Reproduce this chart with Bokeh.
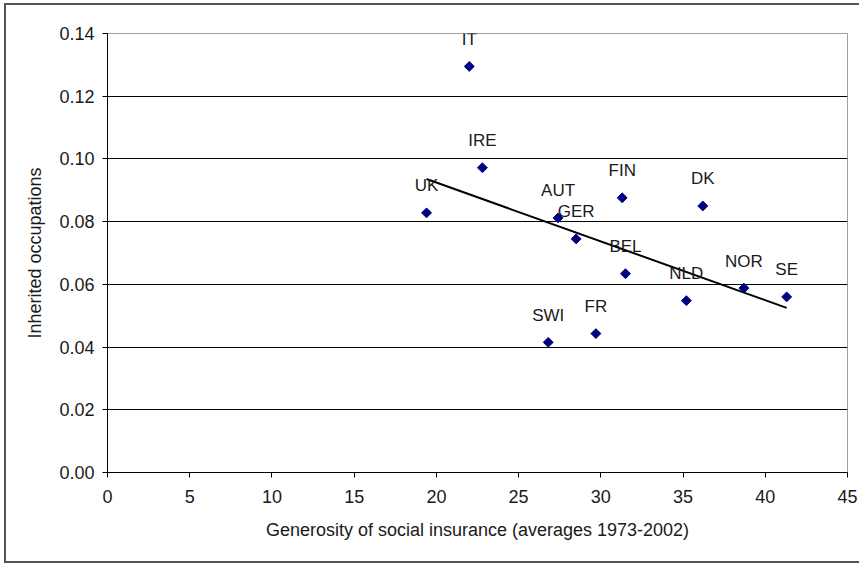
import numpy as np
from bokeh.plotting import figure
from bokeh.layouts import column
from bokeh.models import (ColumnDataSource, FixedTicker, PrintfTickFormatter, Range1d)
from bokeh.core.properties import value
from bokeh.embed import file_html
from bokeh.resources import INLINE

# ---- data ----
countries = ["IT", "IRE", "UK", "AUT", "GER", "FIN", "DK", "BEL", "NLD", "NOR", "SE", "SWI", "FR"]
generosity = [22.0, 22.8, 19.4, 27.4, 28.5, 31.3, 36.2, 31.5, 35.2, 38.7, 41.3, 26.8, 29.7]
inherited = [0.1295, 0.0972, 0.0828, 0.0812, 0.0745, 0.0876, 0.0850, 0.0634, 0.0548,
             0.0588, 0.0560, 0.0415, 0.0443]
x_ticks = [0, 5, 10, 15, 20, 25, 30, 35, 40, 45]
y_ticks = [0.00, 0.02, 0.04, 0.06, 0.08, 0.10, 0.12, 0.14]

FONT = "Liberation Sans"

src = ColumnDataSource(dict(x=generosity, y=inherited, name=countries))

# linear trend line fitted on the data
slope, intercept = np.polyfit(generosity, inherited, 1)
tx = [min(generosity), max(generosity)]
ty = [slope * v + intercept for v in tx]

p = figure(width=853, height=556, output_backend="svg", toolbar_location=None,
           x_range=Range1d(0, 45), y_range=Range1d(0, 0.14),
           min_border_left=101, min_border_right=12, min_border_top=28,
           min_border_bottom=89)
p.background_fill_color = "white"
p.border_fill_color = "white"
p.outline_line_color = "#a0a0a0"
p.outline_line_width = 1

# grid
p.xgrid.visible = False
p.ygrid.ticker = FixedTicker(ticks=[0.02, 0.04, 0.06, 0.08, 0.10, 0.12])
p.ygrid.grid_line_color = "#000000"
p.ygrid.grid_line_width = 1

# axes
for ax in (p.xaxis[0], p.yaxis[0]):
    ax.axis_line_color = "#000000"
    ax.major_tick_line_color = "#000000"
    ax.major_tick_out = 5
    ax.major_tick_in = 0
    ax.minor_tick_line_color = None
    ax.major_label_text_font = FONT
    ax.major_label_text_font_size = "18px"
    ax.major_label_text_color = "#1a1a1a"
    ax.axis_label_text_font = FONT
    ax.axis_label_text_font_size = "18px"
    ax.axis_label_text_font_style = "normal"
    ax.axis_label_text_color = "#1a1a1a"

p.xaxis.ticker = FixedTicker(ticks=x_ticks)
p.yaxis.ticker = FixedTicker(ticks=y_ticks)
p.yaxis.formatter = PrintfTickFormatter(format="%.2f")
p.xaxis.axis_label = "Generosity of social insurance (averages 1973-2002)"
p.yaxis.axis_label = "Inherited occupations"
p.xaxis.major_label_standoff = 12
p.yaxis.major_label_standoff = 8
p.xaxis.axis_label_standoff = 14
p.yaxis.axis_label_standoff = 11

# trend line
p.line(tx, ty, line_color="#000000", line_width=2)

# points
p.scatter("x", "y", source=src, marker="square", size=7, angle=np.pi / 4,
          fill_color="#000080", line_color="#000080")

# data labels
p.text("x", "y", text="name", source=src, text_align="center",
       text_baseline="middle", y_offset=-27, text_font=value(FONT),
       text_font_size="17px", text_color="#1a1a1a")

# outer chart border (right edge falls outside the picture in the original)
layout = column(p, styles={"border": "2px solid #555555", "border-right": "none",
                           "margin": "3px 0 0 4px", "background-color": "white"})

open("out.html", "w").write(file_html(layout, INLINE))
